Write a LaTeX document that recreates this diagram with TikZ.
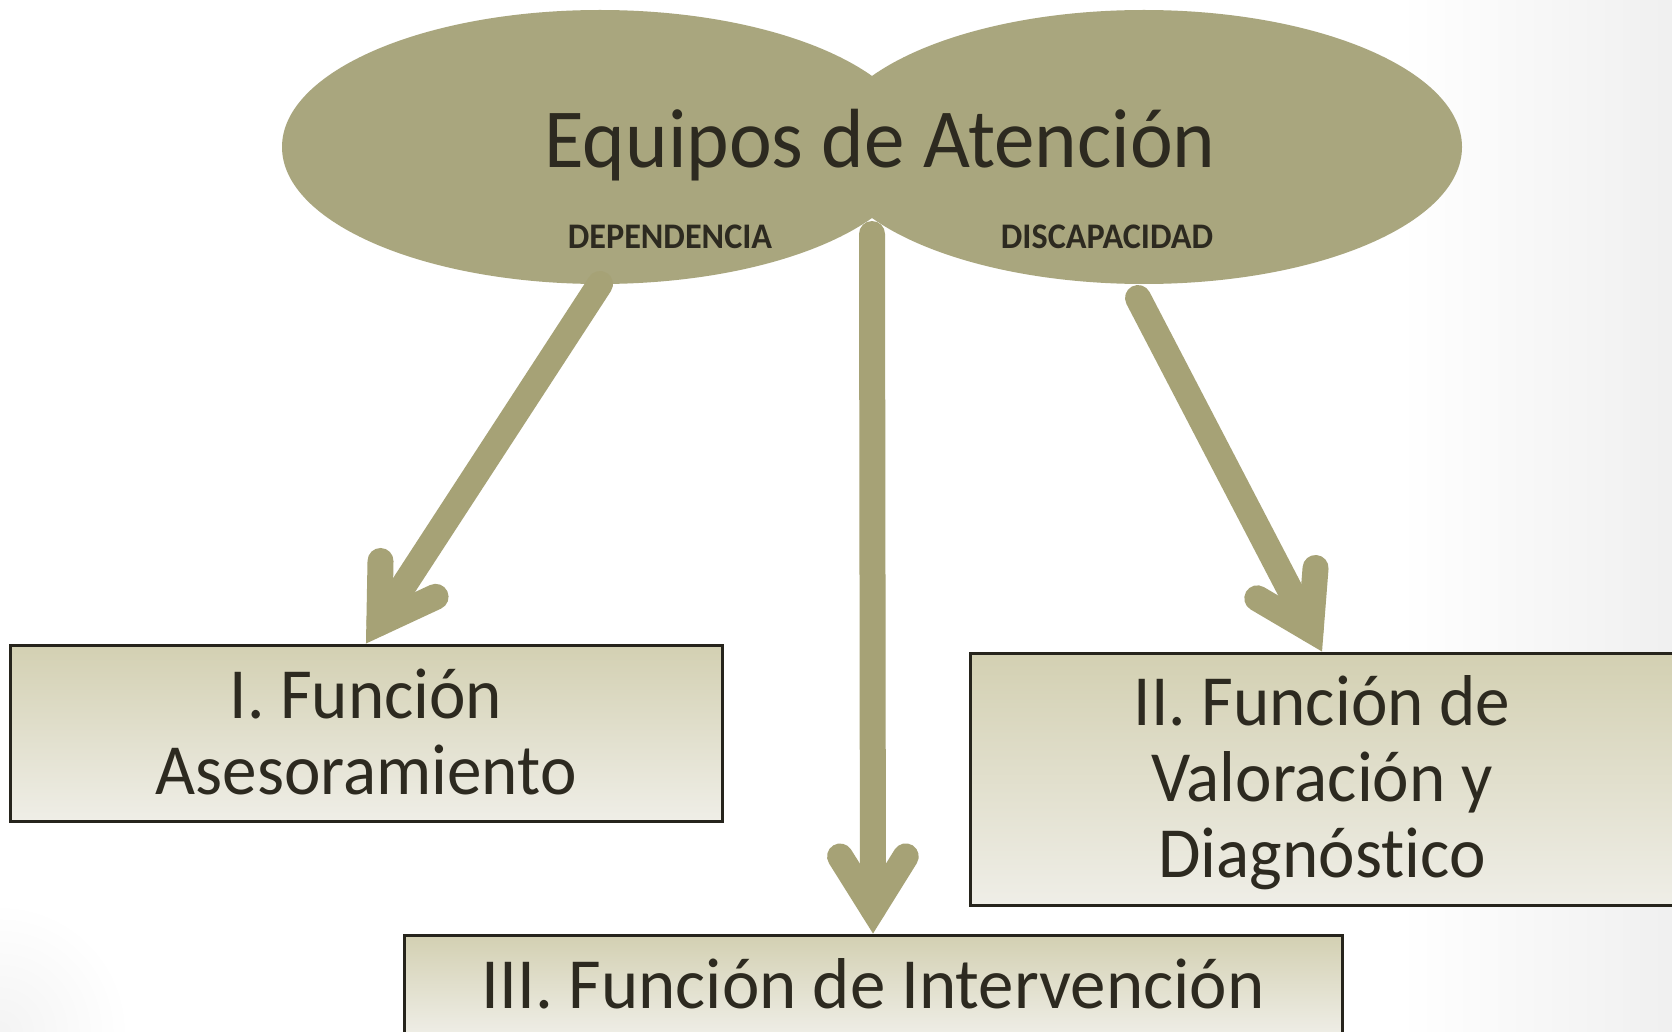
\documentclass[tikz,border=0pt]{standalone}
\usepackage{fontspec}
\setmainfont{Carlito}[Ligatures=NoCommon]
\newfontfamily\titlefont{Carlito}[FakeStretch=0.965,Ligatures=NoCommon]
\newfontfamily\boxfont{Carlito}[FakeStretch=0.96,Ligatures=NoCommon]
\newfontfamily\wideboxfont{Carlito}[FakeStretch=0.985,Ligatures=NoCommon]
\newfontfamily\smallfont{Carlito}[FakeStretch=0.95,Ligatures=NoCommon]
\usetikzlibrary{shapes.geometric,calc}
\definecolor{ellc}{RGB}{169,166,126}
\definecolor{arrowc}{RGB}{166,162,118}
\definecolor{boxtop}{RGB}{211,208,178}
\definecolor{boxbot}{RGB}{239,238,231}
\definecolor{borderc}{RGB}{38,36,28}
\definecolor{textc}{RGB}{45,42,32}
\newcommand\fatarrow[2]{%
  \coordinate (tp) at ($(#2)!24.5pt!(#1)$);
  \draw[shaft] (#1) -- (tp);
  \draw[shaft, line join=miter] ($(tp)!62pt!32:(#1)$) -- (tp) -- ($(tp)!62pt!-32:(#1)$);
}
\begin{document}
\begin{tikzpicture}[x=1pt,y=-1pt,
  ell/.style={ellipse, fill=ellc, inner sep=0pt, outer sep=0pt, minimum width=636pt, minimum height=274pt},
  shaft/.style={draw=arrowc, line width=26pt, line cap=round},
  fbox/.style={draw=borderc, line width=3pt, top color=boxtop, bottom color=boxbot,
    inner sep=0pt, align=center, text=textc, font=\boxfont\fontsize{72}{76}\selectfont},
  small/.style={text=textc, font=\smallfont\bfseries\fontsize{36}{36}\selectfont, anchor=base, inner sep=0pt}]
\useasboundingbox (0,0) rectangle (1672,1032);
\clip (0,0) rectangle (1672,1032);
\fill[white] (0,0) rectangle (1672,1032);
\shade[left color=white, right color=gray!12] (1400,0) rectangle (1672,1032);
\shade[inner color=gray!9, outer color=white] (-130,902) rectangle (130,1162);
% ellipses
\node[ell] (ellL) at (600,147) {};
\node[ell] (ellR) at (1144,147) {};
\node[text=textc, font=\titlefont\fontsize{84}{84}\selectfont, anchor=base, inner sep=0pt] (title) at (880,168) {Equipos de Atención};
\node[small] (dep) at (670,248) {DEPENDENCIA};
\node[small] (disc) at (1107,248) {DISCAPACIDAD};
% boxes
\node[fbox, minimum width=712pt, minimum height=176pt, text height=122.7pt, text depth=0pt] (box1) at (366,733) {I. Función\\Asesoramiento};
\node[fbox, minimum width=704pt, minimum height=252pt, text height=197pt, text depth=0pt] (box2) at (1322,779) {II. Función de\\Valoración y\\Diagnóstico};
\node[fbox, minimum width=938pt, minimum height=101pt, text height=45pt, text depth=0pt, font=\wideboxfont\fontsize{72}{76}\selectfont] (box3) at (873,985.5) {III. Función de Intervención};
% arrow start points
\coordinate (Ls) at (ellL.south);
\coordinate (Cs) at ($(ellL)!0.5!(ellR)+(0,87)$);
\coordinate (Rs) at ($(ellR.south)+(-6,14)$);
\fatarrow{Ls}{box1.north}
\fatarrow{Cs}{box3.north}
\fatarrow{Rs}{box2.north}
\end{tikzpicture}
\end{document}
